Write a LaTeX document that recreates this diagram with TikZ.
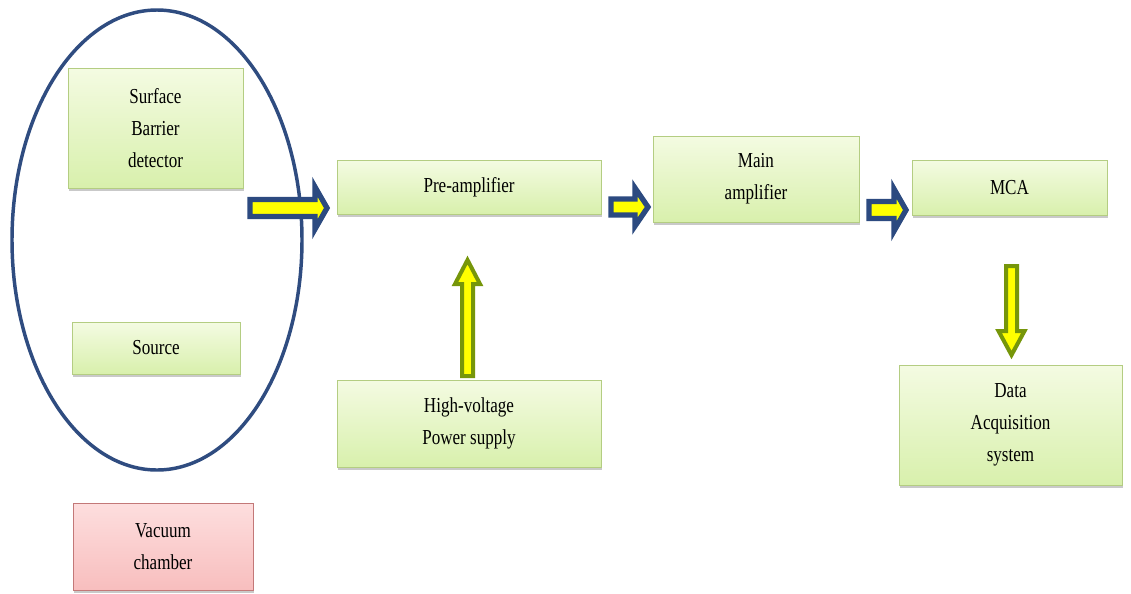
\documentclass[tikz,border=0pt]{standalone}
\usepackage{fontspec}
\setmainfont[FakeStretch=0.8]{Liberation Serif}
\usetikzlibrary{calc,shadows}
\definecolor{arrblue}{RGB}{44,74,128}
\definecolor{ellblue}{RGB}{47,76,128}
\definecolor{arrgreen}{RGB}{118,150,10}
\definecolor{arryel}{RGB}{255,255,0}
\definecolor{boxtop}{RGB}{244,251,226}
\definecolor{boxbot}{RGB}{216,240,172}
\definecolor{boxline}{RGB}{180,205,130}
\definecolor{pinktop}{RGB}{253,222,222}
\definecolor{pinkbot}{RGB}{248,190,190}
\definecolor{pinkline}{RGB}{195,120,120}
\tikzset{
  gbox/.style={draw=boxline, line width=0.6pt, top color=boxtop, bottom color=boxbot,
    align=center, inner sep=0pt, font=\fontsize{16}{24}\selectfont,
    drop shadow={shadow xshift=1pt, shadow yshift=-2pt, opacity=0.35, fill=black!60}},
  pbox/.style={gbox, draw=pinkline, top color=pinktop, bottom color=pinkbot},
  harr/.style={draw=arrblue, line width=4pt, fill=arryel, line join=miter},
  varr/.style={draw=arrgreen, line width=3pt, fill=arryel, line join=miter},
}
% horizontal block arrow: style, start, tip, shaft half, head half, head length
\newcommand\harrow[6]{%
  \draw[#1] ($(#2)+(0,-#4)$) -- ($(#3)+(-#6,-#4)$) -- ($(#3)+(-#6,-#5)$) -- (#3)
    -- ($(#3)+(-#6,#5)$) -- ($(#3)+(-#6,#4)$) -- ($(#2)+(0,#4)$) -- cycle;}
% vertical block arrow: style, start, tip, shaft half, head half, signed head length
\newcommand\varrow[6]{%
  \draw[#1] ($(#2)+(-#4,0)$) -- ($(#3)+(-#4,#6)$) -- ($(#3)+(-#5,#6)$) -- (#3)
    -- ($(#3)+(#5,#6)$) -- ($(#3)+(#4,#6)$) -- ($(#2)+(#4,0)$) -- cycle;}
\begin{document}
\begin{tikzpicture}[x=0.75pt,y=-0.75pt]
\useasboundingbox (0,0) rectangle (1131,593);
\fill[white] (0,0) rectangle (1131,593);
% vacuum chamber outline
\draw[ellblue, line width=2.6pt] (157,240) ellipse [x radius=145, y radius=230];
% boxes
\node[gbox, minimum width=131.25pt, minimum height=90pt] (sbd) at (155.5,128) {Surface\\Barrier\\detector};
\node[gbox, minimum width=126pt, minimum height=39pt] (src) at (156,348) {Source};
\node[gbox, minimum width=198pt, minimum height=40.5pt] (pre) at (469,187) {Pre-amplifier};
\node[gbox, minimum width=198pt, minimum height=65.25pt] (hv) at (469,423.5) {High-voltage\\Power supply};
\node[gbox, minimum width=154.5pt, minimum height=64.5pt] (main) at (756,179) {Main\\amplifier};
\node[gbox, minimum width=146.25pt, minimum height=41.25pt] (mca) at (1009.5,187.5) {MCA};
\node[gbox, minimum width=167.25pt, minimum height=90pt] (daq) at (1010.5,425) {Data\\Acquisition\\system};
\node[pbox, minimum width=135pt, minimum height=65.25pt] (vac) at (163,546.5) {Vacuum\\chamber};
% arrow end points
\coordinate (a1s) at (250,208);  \coordinate (a1e) at (327,208);
\coordinate (a2s) at (611,207);  \coordinate (a2e) at (648,207);
\coordinate (a3s) at (869,210);  \coordinate (a3e) at (906,210);
\coordinate (a4s) at (467.5,376); \coordinate (a4e) at (467.5,260);
\coordinate (a5s) at (1011.5,266); \coordinate (a5e) at (1011.5,355);
% arrows
\harrow{harr}{a1s}{a1e}{8.5}{21}{12}
\harrow{harr}{a2s}{a2e}{8}{19}{13}
\harrow{harr}{a3s}{a3e}{8.5}{21}{12}
\varrow{varr}{a4s}{a4e}{5.5}{12.5}{24}
\varrow{varr}{a5s}{a5e}{5.5}{13}{-24}
\end{tikzpicture}
\end{document}
